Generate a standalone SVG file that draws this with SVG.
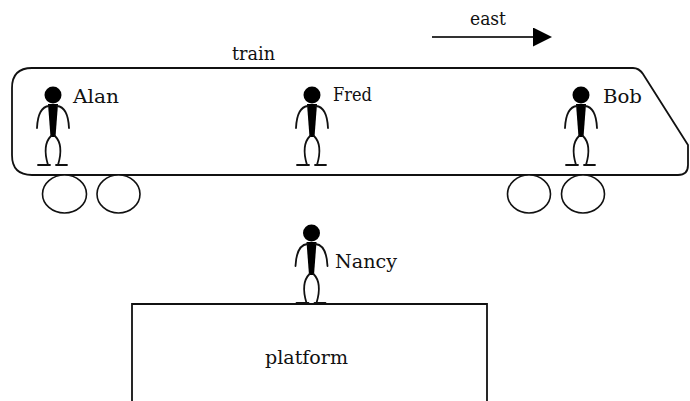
<svg xmlns="http://www.w3.org/2000/svg" xmlns:xlink="http://www.w3.org/1999/xlink" width="690" height="401" viewBox="0 0 690 401">
<style>
  text { font-family: "DejaVu Serif", "Liberation Serif", serif; font-size: 18px; fill: #111; }
  .outline { fill: none; stroke: #111; stroke-width: 1.8; }
  .wheel { fill: #fff; stroke: #111; stroke-width: 1.6; }
  .limb { fill: none; stroke: #111; stroke-width: 1.8; stroke-linecap: round; }
</style>
<defs>
  <g id="person">
    <circle cx="0" cy="0" r="8.5" fill="#000"/>
    <path d="M -5 9 L 5 9 L 2.5 42 L -2.5 42 Z" fill="#000"/>
    <path class="limb" d="M -4 11 Q -15 12 -16 33"/>
    <path class="limb" d="M 4 11 Q 15 12 16 33"/>
    <path class="limb" d="M -2 41 C -9 48 -8 60 -5 70"/>
    <path class="limb" d="M 2 41 C 9 48 8 60 5 70"/>
    <path class="limb" d="M -15 70 H -3 M 3 70 H 14"/>
  </g>
  <marker id="arrow" markerWidth="19" markerHeight="19" refX="0" refY="9.5" orient="auto" markerUnits="userSpaceOnUse">
    <path d="M 0 0 L 19 9.5 L 0 19 Z" fill="#000"/>
  </marker>
</defs>

<g id="train">
  <path class="outline" d="M 32 68 H 633 Q 639 68 643 74 L 688 145 V 165 Q 688 175 678 175 H 32 Q 12 175 12 155 V 88 Q 12 68 32 68 Z"/>
  <ellipse class="wheel" cx="64.5" cy="194" rx="22" ry="19"/>
  <ellipse class="wheel" cx="118.5" cy="194" rx="21.5" ry="19"/>
  <ellipse class="wheel" cx="529" cy="194" rx="21.5" ry="19"/>
  <ellipse class="wheel" cx="583" cy="194" rx="21.5" ry="19"/>
  <text x="232" y="60" textLength="43" lengthAdjust="spacingAndGlyphs">train</text>
</g>

<g id="alan">
  <use xlink:href="#person" x="53" y="95"/>
  <text x="73" y="103" textLength="46" lengthAdjust="spacingAndGlyphs">Alan</text>
</g>
<g id="fred">
  <use xlink:href="#person" x="312" y="95"/>
  <text x="333" y="101" textLength="39" lengthAdjust="spacingAndGlyphs">Fred</text>
</g>
<g id="bob">
  <use xlink:href="#person" x="581" y="95"/>
  <text x="603" y="103" textLength="39" lengthAdjust="spacingAndGlyphs">Bob</text>
</g>
<g id="nancy">
  <use xlink:href="#person" x="311.5" y="233"/>
  <text x="335" y="268" textLength="62" lengthAdjust="spacingAndGlyphs">Nancy</text>
</g>
<g id="platform">
  <path class="outline" d="M 132 402 V 304 H 487 V 402"/>
  <text x="265" y="364" textLength="83" lengthAdjust="spacingAndGlyphs">platform</text>
</g>

<g id="connectors">
  <line x1="432" y1="37" x2="533" y2="37" stroke="#333" stroke-width="2" marker-end="url(#arrow)"/>
  <text x="470" y="25" textLength="36" lengthAdjust="spacingAndGlyphs">east</text>
</g>
</svg>
